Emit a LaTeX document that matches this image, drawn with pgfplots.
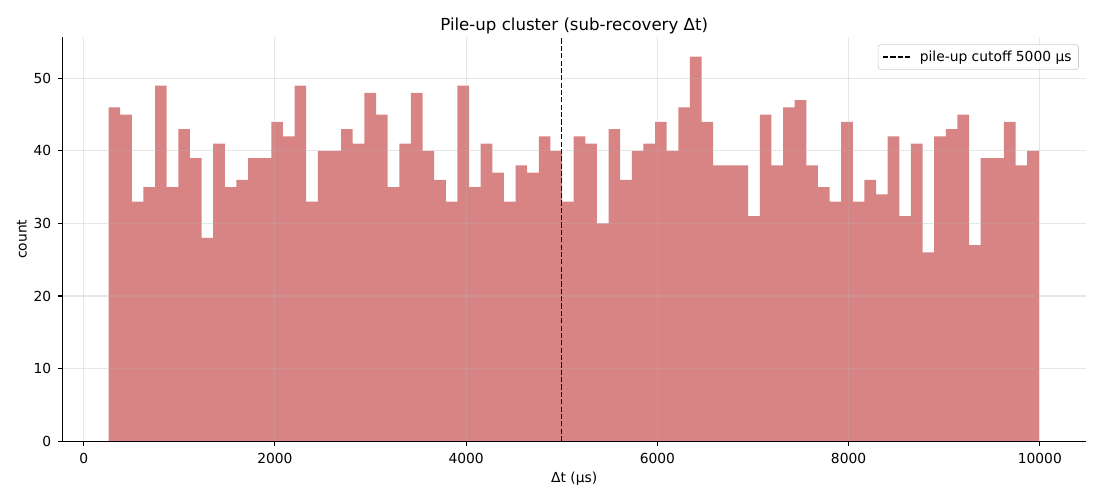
\documentclass[border=0pt]{standalone}
\usepackage{fontspec}
\setmainfont{DejaVu Sans}
\usepackage{pgfplots}
\pgfplotsset{compat=1.18}
\definecolor{barcol}{RGB}{217,132,132}
\definecolor{gridcol}{RGB}{176,176,176}
\pgfplotsset{dashleg/.style={legend image code/.code={\draw[##1] (0bp,0bp) -- (21bp,0bp);}}}
\begin{document}
\begin{tikzpicture}
\path[use as bounding box] (-45.1bp,-42.5bp) rectangle (746.9bp,317.6bp);
\begin{axis}[
  scale only axis,
  width=736.6bp, height=290.7bp,
  xmin=-220, xmax=10480,
  ymin=0, ymax=55.65,
  axis lines=left,
  axis line style={-, line width=0.8bp, black},
  axis on top,
  xtick={0,2000,4000,6000,8000,10000},
  ytick={0,10,20,30,40,50},
  scaled x ticks=false,
  scaled y ticks=false,
  minor tick num=0,
  tick align=outside,
  major tick length=3.5bp,
  tick style={black, line width=0.8bp},
  grid=major,
  grid style={gridcol, opacity=0.3, line width=0.8bp},
  /pgf/number format/1000 sep={},
  /pgf/number format/assume math mode=true,
  ticklabel style={font=\fontsize{10}{12}\selectfont},
  xticklabel style={anchor=north, inner sep=0pt, yshift=-4.9bp},
  yticklabel style={anchor=east, inner sep=0pt, xshift=-4.5bp},
  title={Pile-up cluster (sub-recovery Δt)},
  every axis title/.style={at={(axis description cs:0.5,1)}, anchor=base, inner sep=0pt, yshift=5.3bp, font=\fontsize{12}{14}\selectfont},
  xlabel={Δt (μs)},
  xlabel style={at={(axis description cs:0.5,0)}, anchor=base, inner sep=0pt, yshift=-30bp, font=\fontsize{10}{12}\selectfont},
  ylabel={count},
  ylabel style={at={(axis description cs:-0.0398,0.5)}, anchor=center, inner sep=0pt, font=\fontsize{10}{12}\selectfont},
  legend style={at={(1,1)}, anchor=north east, xshift=-5bp, yshift=-5bp,
    draw=black!20, rounded corners=2bp, fill=white, fill opacity=0.8, text opacity=1,
    font=\fontsize{10}{12}\selectfont, inner xsep=3bp, inner ysep=2.5bp,
    /tikz/every odd column/.append style={column sep=3bp}},
  legend cell align=left,
]
\addplot[ybar interval, fill=barcol, draw=none, forget plot] coordinates {
(260,46) (381.625,45) (503.25,33) (624.875,35) (746.5,49) (868.125,35) (989.75,43) (1111.375,39)
(1233,28) (1354.625,41) (1476.25,35) (1597.875,36) (1719.5,39) (1841.125,39) (1962.75,44) (2084.375,42)
(2206,49) (2327.625,33) (2449.25,40) (2570.875,40) (2692.5,43) (2814.125,41) (2935.75,48) (3057.375,45)
(3179,35) (3300.625,41) (3422.25,48) (3543.875,40) (3665.5,36) (3787.125,33) (3908.75,49) (4030.375,35)
(4152,41) (4273.625,37) (4395.25,33) (4516.875,38) (4638.5,37) (4760.125,42) (4881.75,40) (5003.375,33)
(5125,42) (5246.625,41) (5368.25,30) (5489.875,43) (5611.5,36) (5733.125,40) (5854.75,41) (5976.375,44)
(6098,40) (6219.625,46) (6341.25,53) (6462.875,44) (6584.5,38) (6706.125,38) (6827.75,38) (6949.375,31)
(7071,45) (7192.625,38) (7314.25,46) (7435.875,47) (7557.5,38) (7679.125,35) (7800.75,33) (7922.375,44)
(8044,33) (8165.625,36) (8287.25,34) (8408.875,42) (8530.5,31) (8652.125,41) (8773.75,26) (8895.375,42)
(9017,43) (9138.625,45) (9260.25,27) (9381.875,39) (9503.5,39) (9625.125,44) (9746.75,38) (9868.375,40)
(9990,40)
};
\addplot[black, line width=1bp, dash pattern=on 3.7bp off 1.6bp, dashleg] coordinates {(5000,0) (5000,55.65)};
\addlegendentry{pile-up cutoff 5000 μs}
\end{axis}
\end{tikzpicture}
\end{document}
